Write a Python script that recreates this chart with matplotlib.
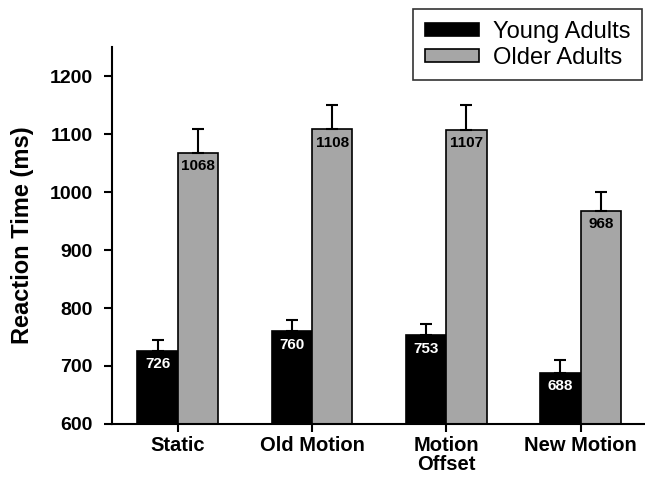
import matplotlib
matplotlib.use('Agg')
import matplotlib.pyplot as plt
import numpy as np

categories = ['Static', 'Old Motion', 'Motion\nOffset', 'New Motion']
young = [726, 760, 753, 688]
older = [1068, 1108, 1107, 968]
young_err = [19, 20, 20, 22]
older_err = [40, 42, 43, 32]

plt.rcParams['font.family'] = ['Liberation Sans', 'DejaVu Sans']

fig = plt.figure(figsize=(6.45, 4.8), dpi=100)
ax = fig.add_axes([0.1736, 0.1167, 0.8264, 0.7853])

x = np.arange(len(categories))
w = 0.3
ax.bar(x - w / 2, np.array(young) - 600, w, bottom=600, color='black', edgecolor='black',
       linewidth=1.2, label='Young Adults')
ax.bar(x + w / 2, np.array(older) - 600, w, bottom=600, color='#a6a6a6', edgecolor='black',
       linewidth=1.2, label='Older Adults')

# only upper error bars
ax.errorbar(x - w / 2, young, yerr=[np.zeros(4), young_err], fmt='none', ecolor='black',
            elinewidth=1.5, capsize=4, capthick=1.5)
ax.errorbar(x + w / 2, older, yerr=[np.zeros(4), older_err], fmt='none', ecolor='black',
            elinewidth=1.5, capsize=4, capthick=1.5)

for xi, v in zip(x - w / 2, young):
    ax.text(xi, v - 11, str(v), ha='center', va='top', color='white', fontsize=11, fontweight='bold')
for xi, v in zip(x + w / 2, older):
    ax.text(xi, v - 11, str(v), ha='center', va='top', color='black', fontsize=11, fontweight='bold')

ax.set_ylim(600, 1250)
ax.set_xlim(-0.49, 3.48)
ax.set_yticks([600, 700, 800, 900, 1000, 1100, 1200])
ax.set_xticks(x)
ax.set_xticklabels(categories, linespacing=1.0)
ax.set_ylabel('Reaction Time (ms)', fontsize=17, fontweight='bold', labelpad=11)
for lbl in ax.get_xticklabels():
    lbl.set_fontweight('bold')
    lbl.set_fontsize(14.5)
for lbl in ax.get_yticklabels():
    lbl.set_fontweight('bold')
    lbl.set_fontsize(14)

ax.spines['top'].set_visible(False)
ax.spines['right'].set_visible(False)
ax.spines['left'].set_linewidth(1.5)
ax.spines['bottom'].set_linewidth(1.5)
ax.tick_params(width=1.5, length=6)
ax.tick_params(axis='x', pad=3)
ax.tick_params(axis='y', pad=8)

leg = ax.legend(loc='upper right', bbox_to_anchor=(0.995, 1.1), fontsize=17, frameon=True,
                fancybox=False, edgecolor='black', handlelength=2.3, handleheight=0.5,
                borderpad=0.5, labelspacing=0.15, handletextpad=0.6, borderaxespad=0)
leg.get_frame().set_linewidth(1.2)

fig.savefig('out.png', dpi=100)
